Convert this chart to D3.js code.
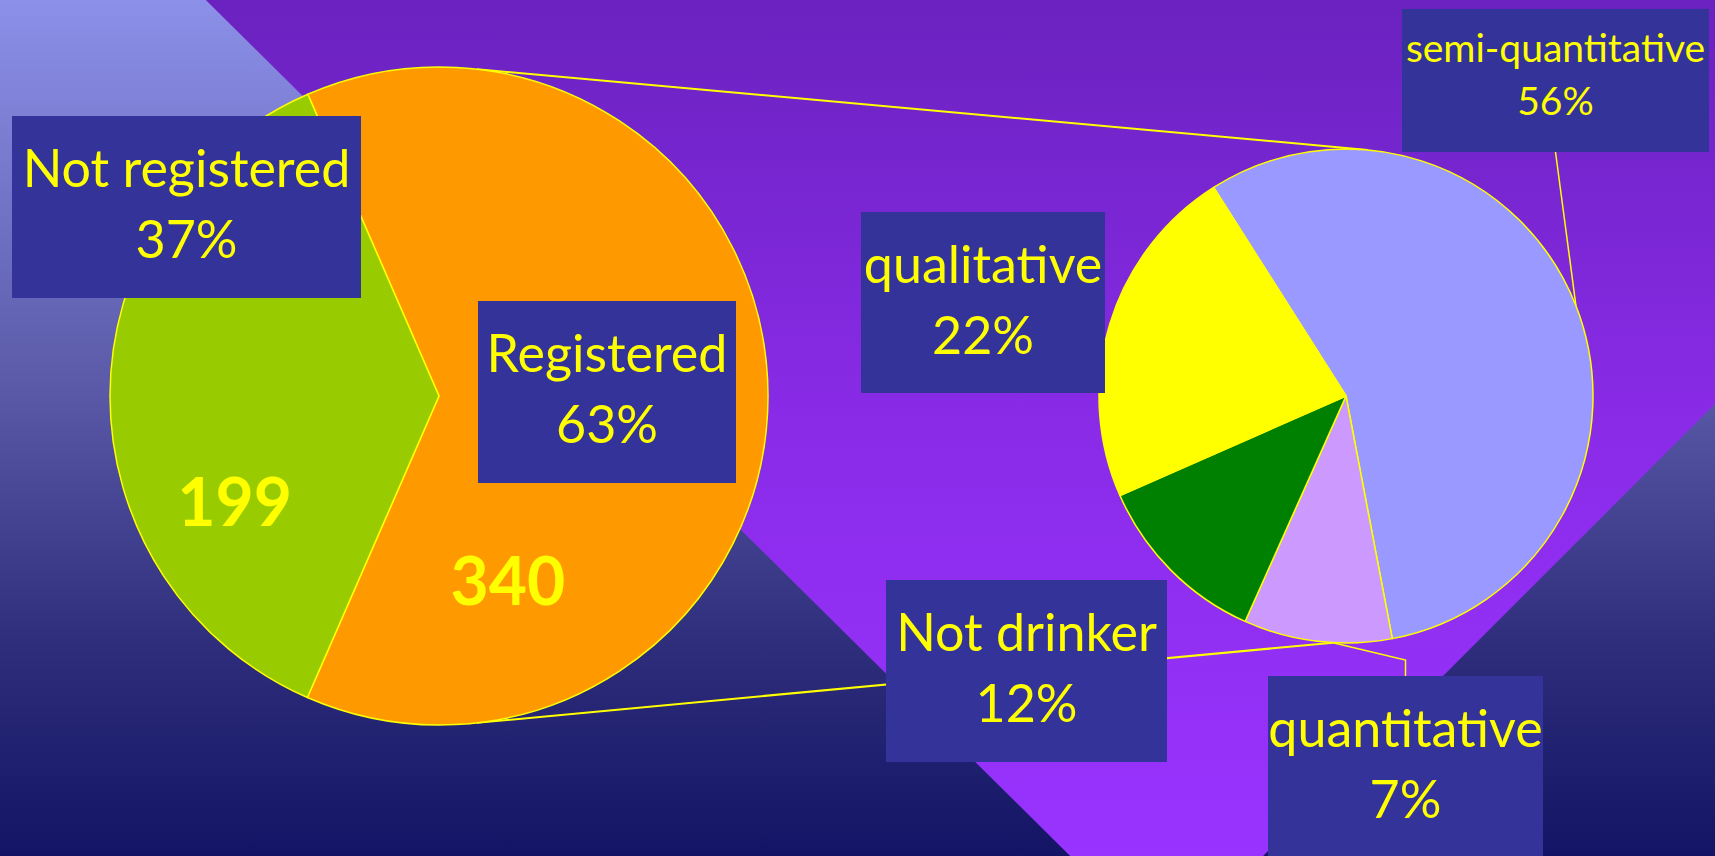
<!DOCTYPE html>
<html>
<head>
<meta charset="utf-8">
<script src="https://cdn.jsdelivr.net/npm/d3@7"></script>
<style>
html, body { margin: 0; padding: 0; overflow: hidden; background: #141466; }
text { font-family: "Comic Sans MS", Lato, sans-serif; fill: #ffff00; }
</style>
</head>
<body>
<div class="container"></div>
<script>
// first pie: registered or not
const mainCategories = ["Registered", "Not registered"];
const mainValues = [340, 199];
const mainPercents = ["63%", "37%"];
const mainColors = ["#ff9900", "#99cc00"];

// second pie: breakdown of the registered slice
const subCategories = ["semi-quantitative", "quantitative", "Not drinker", "qualitative"];
const subValues = [56, 9.7, 11.7, 22.6];
const subPercents = ["56%", "7%", "12%", "22%"];
const subColors = ["#9999ff", "#cc99ff", "#008000", "#ffff00"];

const width = 1715;
const height = 856;
const deg = Math.PI / 180;

// pie geometry
const pie1 = { cx: 439, cy: 396, r: 329, start: -23.5 };
const pie2 = { cx: 1346, cy: 396, r: 247, start: -32.4 };

// label boxes (annotations), two text lines each
const boxes = [
    { text: [mainCategories[1], mainPercents[1]], x: 12, y: 116, w: 349, h: 182, size: 52 },
    { text: [mainCategories[0], mainPercents[0]], x: 478, y: 301, w: 258, h: 182, size: 52 },
    { text: [subCategories[0], subPercents[0]], x: 1402, y: 9, w: 307, h: 143, size: 39 },
    { text: [subCategories[3], subPercents[3]], x: 861, y: 212, w: 244, h: 181, size: 52 },
    { text: [subCategories[2], subPercents[2]], x: 886, y: 580, w: 281, h: 182, size: 52 },
    { text: [subCategories[1], subPercents[1]], x: 1268, y: 676, w: 275, h: 182, size: 52 }
];

const svg = d3.select(".container")
    .append("svg")
    .attr("width", width)
    .attr("height", height);

const defs = svg.append("defs");

const bgGrad = defs.append("linearGradient")
    .attr("id", "bg").attr("x1", 0).attr("y1", 0).attr("x2", 0).attr("y2", 1);
[[0, "#8c90e8"], [0.45, "#5a5aa8"], [0.75, "#2e2e7c"], [1, "#141466"]]
    .forEach(s => bgGrad.append("stop").attr("offset", s[0]).attr("stop-color", s[1]));

const purpleGrad = defs.append("linearGradient")
    .attr("id", "purple").attr("x1", 0).attr("y1", 0).attr("x2", 0).attr("y2", 1);
[[0, "#6a22bf"], [0.5, "#8a2be8"], [1, "#9933ff"]]
    .forEach(s => purpleGrad.append("stop").attr("offset", s[0]).attr("stop-color", s[1]));

svg.append("rect")
    .attr("width", width)
    .attr("height", height)
    .attr("fill", "url(#bg)");

// the big purple chevron behind the pies
const chevron = [[0.12, 0], [1, 0], [1, 0.472], [0.7365, 1], [0.624, 1]];
svg.append("path")
    .attr("d", d3.line()(chevron.map(p => [p[0] * width, p[1] * height])) + "Z")
    .attr("fill", "url(#purple)");

// point on a pie's rim, angle in degrees clockwise from 12 o'clock
const rim = (p, a) => [p.cx + p.r * Math.sin(a * deg), p.cy - p.r * Math.cos(a * deg)];

// connector lines between the two pies
const connectors = [[6.6, 5], [173.4, 183]];
svg.append("g")
    .selectAll("line")
    .data(connectors)
    .enter()
    .append("line")
    .attr("x1", d => rim(pie1, d[0])[0])
    .attr("y1", d => rim(pie1, d[0])[1])
    .attr("x2", d => rim(pie2, d[1])[0])
    .attr("y2", d => rim(pie2, d[1])[1])
    .attr("stroke", "#ffff00")
    .attr("stroke-width", 2);

const drawPie = (p, values, colors) => {
    const layout = d3.pie()
        .sort(null)
        .value(d => d)
        .startAngle(p.start * deg)
        .endAngle(p.start * deg + 2 * Math.PI);
    const arc = d3.arc().innerRadius(0).outerRadius(p.r);
    const g = svg.append("g")
        .attr("transform", "translate(" + [p.cx, p.cy] + ")");
    g.selectAll("path")
        .data(layout(values))
        .enter()
        .append("path")
        .attr("d", arc)
        .attr("fill", (d, i) => colors[i])
        .attr("stroke", "#ffff00")
        .attr("stroke-width", 1.5)
        .attr("stroke-linejoin", "round");
    return g;
};

const g1 = drawPie(pie1, mainValues, mainColors);
drawPie(pie2, subValues, subColors);

// value labels inside the first pie (angle, fraction of radius)
const valuePos = [[159.6, 0.6], [242.5, 0.7]];
g1.selectAll("text")
    .data(mainValues)
    .enter()
    .append("text")
    .attr("x", (d, i) => pie1.r * valuePos[i][1] * Math.sin(valuePos[i][0] * deg))
    .attr("y", (d, i) => -pie1.r * valuePos[i][1] * Math.cos(valuePos[i][0] * deg))
    .attr("dy", "0.36em")
    .attr("text-anchor", "middle")
    .style("font-weight", "bold")
    .style("font-size", "66px")
    .text(d => d);

// leader lines from boxes to the second pie
const semiBox = boxes[2];
const quantBox = boxes[5];
const leaders = [
    [[semiBox.x + semiBox.w / 2, semiBox.y + semiBox.h], rim(pie2, 68.6)],
    [[quantBox.x + quantBox.w / 2, quantBox.y], [quantBox.x + quantBox.w / 2, quantBox.y - 16], rim(pie2, 183)]
];
svg.append("g")
    .selectAll("path")
    .data(leaders)
    .enter()
    .append("path")
    .attr("d", d => d3.line()(d))
    .attr("fill", "none")
    .attr("stroke", "#ffff00")
    .attr("stroke-width", 1.5);

// label boxes
const boxG = svg.append("g")
    .selectAll("g")
    .data(boxes)
    .enter()
    .append("g")
    .attr("transform", d => "translate(" + [d.x, d.y] + ")");

boxG.append("rect")
    .attr("width", d => d.w)
    .attr("height", d => d.h)
    .attr("fill", "#333399");

boxG.each(function (d) {
    const step = d.size * 1.37;
    d3.select(this).selectAll("text")
        .data(d.text)
        .enter()
        .append("text")
        .attr("x", d.w / 2)
        .attr("y", (t, i) => d.size * 1.36 + i * step)
        .attr("text-anchor", "middle")
        .style("font-size", d.size + "px")
        .text(t => t);
});
</script>
</body>
</html>
